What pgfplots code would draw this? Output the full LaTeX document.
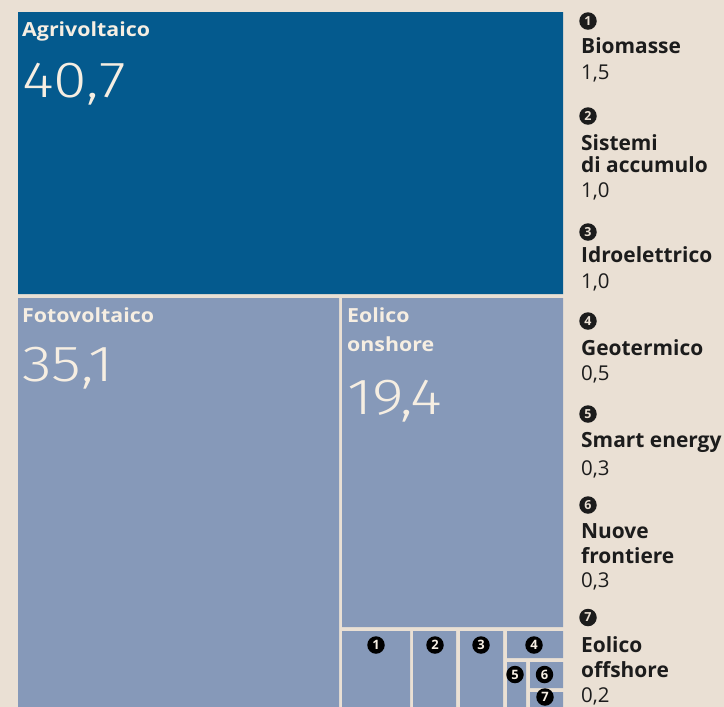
\documentclass[border=0pt]{standalone}
\usepackage{pgfplots}
\pgfplotsset{compat=1.18}
\usepackage{fontspec}
\setmainfont{Open Sans}
\newfontfamily\boxfont[FakeStretch=1.1]{Open Sans}
\newfontfamily\lightfont[FakeStretch=1.2]{Fira Sans Light}
\definecolor{bg}{RGB}{234,224,212}
\definecolor{agri}{RGB}{4,90,142}
\definecolor{boxc}{RGB}{134,153,185}
\definecolor{cream}{RGB}{246,238,226}
\definecolor{ink}{RGB}{28,28,28}
\tikzset{
  lbl/.style={anchor=base west, inner sep=0, text=cream, font=\boxfont\bfseries\fontsize{19.5}{24}\selectfont},
  big/.style={anchor=base west, inner sep=0, text=cream, font=\lightfont\fontsize{51}{51}\selectfont},
  lg/.style={anchor=base west, inner sep=0, text=ink, font=\bfseries\fontsize{21}{24}\selectfont},
  lv/.style={anchor=base west, inner sep=0, text=ink, font=\fontsize{20.5}{22}\selectfont},
  cn/.style={circle, fill=ink, text=bg, inner sep=0, minimum size=17.5bp, font=\bfseries\fontsize{12.5}{12.5}\selectfont},
  bn/.style={circle, fill=black, text=cream, inner sep=0, minimum size=17.5bp, font=\bfseries\fontsize{13}{13}\selectfont}}
\begin{document}
\begin{tikzpicture}
\begin{axis}[x=1bp, y=1bp, y dir=reverse, xmin=0, xmax=724, ymin=0, ymax=707,
  hide axis, clip=false, anchor=south west, at={(0,0)}]
% background
\addplot[fill=bg, draw=none] coordinates {(0,0) (724,0) (724,707) (0,707) (0,0)};
% treemap tiles: Agrivoltaico 40.7, Fotovoltaico 35.1, Eolico onshore 19.4,
% Biomasse 1.5, Sistemi di accumulo 1.0, Idroelettrico 1.0, Geotermico 0.5,
% Smart energy 0.3, Nuove frontiere 0.3, Eolico offshore 0.2
\addplot[fill=agri, draw=none] coordinates {(18,12) (563,12) (563,294) (18,294) (18,12)};
\addplot[fill=boxc, draw=none] coordinates {(18,298) (339,298) (339,707) (18,707) (18,298)};
\addplot[fill=boxc, draw=none] coordinates {(342,298) (563,298) (563,627) (342,627) (342,298)};
\addplot[fill=boxc, draw=none] coordinates {(342,631) (410,631) (410,707) (342,707) (342,631)};
\addplot[fill=boxc, draw=none] coordinates {(413,631) (456,631) (456,707) (413,707) (413,631)};
\addplot[fill=boxc, draw=none] coordinates {(460,631) (503,631) (503,707) (460,707) (460,631)};
\addplot[fill=boxc, draw=none] coordinates {(507,631) (563,631) (563,658) (507,658) (507,631)};
\addplot[fill=boxc, draw=none] coordinates {(507,662) (526,662) (526,707) (507,707) (507,662)};
\addplot[fill=boxc, draw=none] coordinates {(530,662) (563,662) (563,688) (530,688) (530,662)};
\addplot[fill=boxc, draw=none] coordinates {(530,692) (563,692) (563,707) (530,707) (530,692)};
% tile labels
\node[lbl] at (axis cs:22,36) {Agrivoltaico};
\node[big] at (axis cs:22,97) {40,7};
\node[lbl] at (axis cs:22,322) {Fotovoltaico};
\node[big] at (axis cs:22,381) {35,1};
\node[lbl] at (axis cs:347,322) {Eolico};
\node[lbl] at (axis cs:347,351) {onshore};
\node[big] at (axis cs:347,414) {19,4};
\node[bn] at (axis cs:376,645) {1};
\node[bn] at (axis cs:435,645) {2};
\node[bn] at (axis cs:481,645) {3};
\node[bn] at (axis cs:534,645) {4};
\node[bn] at (axis cs:515,674.5) {5};
\node[bn] at (axis cs:544.5,674.5) {6};
\node[bn] at (axis cs:545,697) {7};
% legend
\node[cn] at (axis cs:588,21) {1};
\node[lg] at (axis cs:581,53) {Biomasse};
\node[lv] at (axis cs:581,79) {1,5};
\node[cn] at (axis cs:588,116) {2};
\node[lg] at (axis cs:581,150) {Sistemi};
\node[lg] at (axis cs:581,172) {di accumulo};
\node[lv] at (axis cs:581,197) {1,0};
\node[cn] at (axis cs:588,232) {3};
\node[lg] at (axis cs:581,262) {Idroelettrico};
\node[lv] at (axis cs:581,288) {1,0};
\node[cn] at (axis cs:588,321) {4};
\node[lg] at (axis cs:581,355) {Geotermico};
\node[lv] at (axis cs:581,380) {0,5};
\node[cn] at (axis cs:588,414) {5};
\node[lg] at (axis cs:581,447) {Smart energy};
\node[lv] at (axis cs:581,475) {0,3};
\node[cn] at (axis cs:588,505) {6};
\node[lg] at (axis cs:581,538) {Nuove};
\node[lg] at (axis cs:581,563) {frontiere};
\node[lv] at (axis cs:581,587) {0,3};
\node[cn] at (axis cs:588,617.5) {7};
\node[lg] at (axis cs:581,652) {Eolico};
\node[lg] at (axis cs:581,677) {offshore};
\node[lv] at (axis cs:581,702) {0,2};
\end{axis}
\pgfresetboundingbox
\path[use as bounding box] (0,0) rectangle (724bp,707bp);
\end{tikzpicture}
\end{document}
